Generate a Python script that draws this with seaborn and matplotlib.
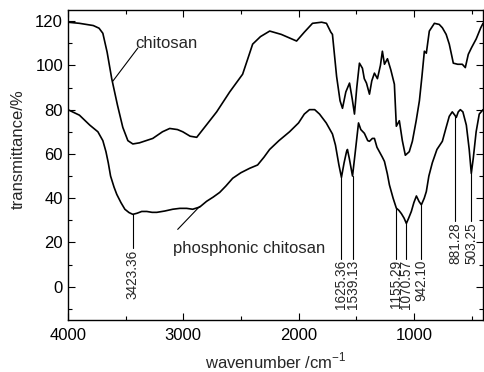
import numpy as np
import pandas as pd
import matplotlib
matplotlib.use("Agg")
import matplotlib.pyplot as plt
from matplotlib.ticker import MultipleLocator
import seaborn as sns

# ---- data ----
chitosan_wn = [4000, 3900, 3780, 3730, 3697, 3660, 3620, 3570, 3524, 3480, 3437, 3380, 3264, 3180,
               3117, 3050, 3004, 2940, 2883, 2800, 2710, 2597, 2485, 2440, 2398, 2330, 2250, 2150,
               2017, 1950, 1879, 1800, 1758, 1720, 1706, 1670, 1640, 1619, 1590, 1558, 1535, 1515,
               1495, 1472, 1446, 1430, 1411, 1385, 1365, 1342, 1316, 1290, 1273, 1255, 1229, 1200,
               1169, 1152, 1126, 1100, 1074, 1040, 1013, 980, 952, 930, 909, 892, 866, 822, 780,
               753, 720, 693, 670, 658, 620, 580, 554, 528, 500, 459, 420, 400]
chitosan_t = [119.5, 119, 118, 116.8, 114.5, 106, 94, 82, 72, 66, 64.5, 65, 67, 70,
              71.5, 71, 70, 68, 67.5, 73, 79, 88, 96, 103, 109.6, 113, 115.5, 114,
              111, 115, 119, 119.5, 119, 115, 114, 95, 84, 80.6, 88, 92, 85, 78,
              90, 101, 98.7, 94, 92, 87, 93, 96.5, 94, 100, 106.4, 100.5, 103, 98,
              91.5, 72.5, 75, 66, 59.4, 61, 65.7, 75, 84, 95, 106.4, 105.5, 115.5, 119, 118.5,
              117, 114, 109.6, 104, 101, 100.5, 100.5, 99, 105, 108, 112, 117, 119]

phos_wn = [4000, 3900, 3810, 3740, 3697, 3670, 3650, 3630, 3600, 3576, 3540, 3506, 3470, 3437,
           3400, 3360, 3316, 3270, 3229, 3160, 3091, 3030, 2970, 2918, 2857, 2797, 2740, 2684,
           2630, 2571, 2500, 2424, 2355, 2300, 2251, 2170, 2078, 2000, 1950, 1905, 1860, 1818,
           1760, 1706, 1680, 1650, 1628, 1605, 1584, 1576, 1560, 1532, 1510, 1480, 1460, 1429,
           1400, 1385, 1360, 1342, 1320, 1299, 1273, 1255, 1230, 1212, 1180, 1152, 1130, 1108,
           1085, 1065, 1045, 1022, 1000, 978, 955, 935, 910, 892, 870, 840, 800, 753, 720, 693,
           667, 645, 632, 615, 597, 575, 545, 520, 502, 485, 460, 433, 400]
phos_t = [80, 77.5, 73, 70, 66, 61, 56, 50, 45, 41.7, 38, 35, 33.5, 32.7,
          33.2, 34, 34, 33.6, 33.6, 34.2, 35, 35.4, 35.4, 35, 36, 38.6, 40.5, 42.6,
          45.5, 49, 51.5, 53.5, 55, 58.5, 62, 66, 70, 74, 78, 80, 80, 78,
          74, 69, 64, 55, 49.4, 56, 61, 62, 58, 50, 60, 74, 71, 69.3,
          66, 65.7, 67, 67, 63, 61, 58.5, 56.6, 51, 46, 40, 35.5, 34.5, 33,
          31, 28.6, 31, 34, 38, 41, 38.5, 37, 40, 43, 50, 56, 62, 65.7, 72, 77,
          79, 77.5, 76.5, 79, 80, 79, 73, 62, 51.2, 58, 70, 78, 80]

peak_labels = ["3423.36", "1625.36", "1539.13", "1155.29", "1070.57", "942.10", "881.28", "503.25"]
peak_pos = [3437, 1628, 1532, 1152, 1065, 935, 640, 502]
label_top = [17.3, 12.7, 12.7, 12.7, 12.7, 12.7, 29.5, 29.5]

# ---- plotting ----
sns.set_theme(style="ticks")
plt.rcParams['font.family'] = ['Liberation Sans', 'DejaVu Sans']
plt.rcParams['mathtext.fontset'] = 'custom'
plt.rcParams['mathtext.rm'] = 'Liberation Sans'

fig = plt.figure(figsize=(4.85, 3.72), dpi=100)
ax = fig.add_axes([0.140, 0.140, 0.856, 0.833])

df = pd.concat([
    pd.DataFrame({"wn": chitosan_wn, "T": chitosan_t, "s": "chitosan"}),
    pd.DataFrame({"wn": phos_wn, "T": phos_t, "s": "phosphonic chitosan"}),
])
sns.lineplot(data=df, x="wn", y="T", units="s", estimator=None, sort=False,
             color="black", lw=1.2, ax=ax)

ax.set_xlim(4000, 400)
ax.set_ylim(-15, 125)
ax.xaxis.set_major_locator(MultipleLocator(1000))
ax.xaxis.set_minor_locator(MultipleLocator(500))
ax.yaxis.set_major_locator(MultipleLocator(20))
ax.yaxis.set_minor_locator(MultipleLocator(10))
ax.tick_params(which="both", direction="in", top=True, right=True, labelsize=12,
               color="black", labelcolor="black")
ax.tick_params(which="major", length=5, width=0.8)
ax.tick_params(axis="x", which="major", pad=6)
ax.tick_params(which="minor", length=3, width=0.8)
for s in ax.spines.values():
    s.set_color("black")
    s.set_linewidth(1.0)
ax.set_xlabel("wavenumber /cm$^{-1}$", fontsize=12)
ax.set_ylabel("transmittance/%", fontsize=12)
ax.xaxis.set_label_coords(0.5, -0.10)
ax.xaxis.label.set_va("top")
ax.yaxis.set_label_coords(-0.12, 0.55)
ax.yaxis.label.set_va("center")

# peak annotations
wn_sorted = np.array(phos_wn)[::-1]
t_sorted = np.array(phos_t)[::-1]
for lab, xp, yt in zip(peak_labels, peak_pos, label_top):
    ycurve = float(np.interp(xp, wn_sorted, t_sorted))
    ax.plot([xp, xp], [ycurve, yt], color="black", lw=0.8)
    ax.text(xp, yt - 0.5, lab, rotation=90, ha="center", va="top", fontsize=9.8)

# series labels
ax.text(3420, 110, "chitosan", fontsize=12, va="center", ha="left")
ax.plot([3394, 3610], [107.8, 92.9], color="black", lw=0.8)
ax.text(3091, 17.3, "phosphonic chitosan", fontsize=12, va="center", ha="left")
ax.plot([3048, 2857], [25.9, 36.3], color="black", lw=0.8)

fig.savefig("out.png", dpi=100)
